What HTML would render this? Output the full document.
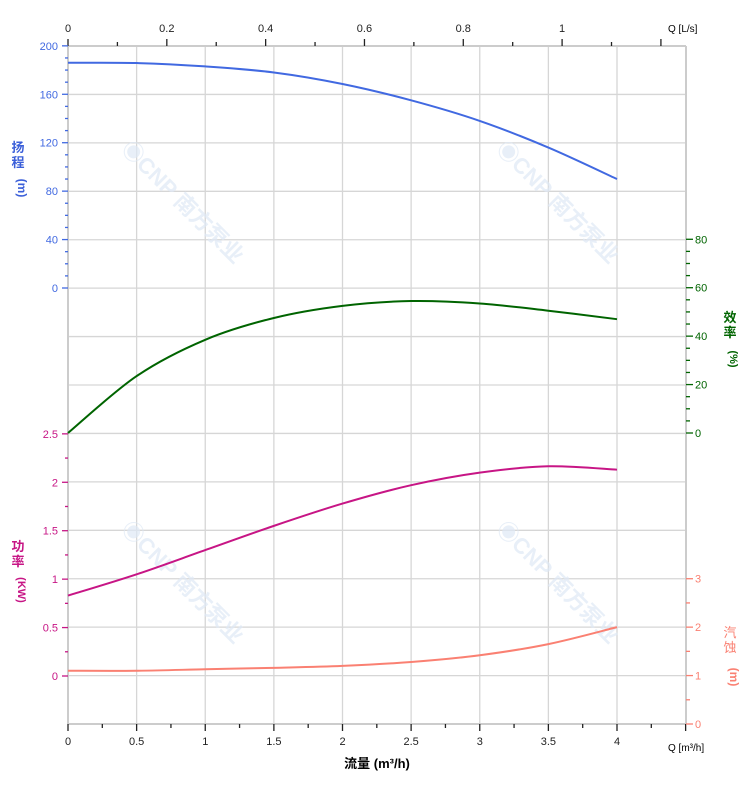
<!DOCTYPE html>
<html><head><meta charset="utf-8"><style>
html,body{margin:0;padding:0;background:#fff}
svg{display:block;font-family:"Liberation Sans","Noto Sans CJK SC",sans-serif}
</style></head><body>
<svg id="s" width="752" height="797" viewBox="0 0 752 797" xmlns="http://www.w3.org/2000/svg">
<g id="grid" stroke="#d6d6d6" stroke-width="1.3"></g>
<g id="wm" fill="#dfe9f5" font-size="22" font-weight="bold" opacity="0.7">
<text x="120" y="150" transform="rotate(45 120 150)">◉CNP 南方泵业</text>
<text x="495" y="150" transform="rotate(45 495 150)">◉CNP 南方泵业</text>
<text x="120" y="530" transform="rotate(45 120 530)">◉CNP 南方泵业</text>
<text x="495" y="530" transform="rotate(45 495 530)">◉CNP 南方泵业</text>
</g>
<line x1="68" y1="46" x2="68" y2="724" stroke="#ccc" stroke-width="2"/>
<line x1="686" y1="46" x2="686" y2="724" stroke="#ccc" stroke-width="2"/>
<line x1="68" y1="724" x2="686" y2="724" stroke="#ccc" stroke-width="2"/>
<line x1="68" y1="46" x2="686" y2="46" stroke="#ccc" stroke-width="2"/>
<g id="ticks"></g>
<g id="lab" font-size="11"></g>
<g id="curves" fill="none" stroke-width="2"></g>
<g font-size="13" font-weight="bold">
<text x="18" y="152" fill="#3b5fd9" text-anchor="middle">扬</text>
<text x="18" y="167" fill="#3b5fd9" text-anchor="middle">程</text>
<text x="18" y="188" fill="#3b5fd9" text-anchor="middle" transform="rotate(90 18 188)" font-size="12">(m)</text>
<text x="18" y="551" fill="#c71585" text-anchor="middle">功</text>
<text x="18" y="566" fill="#c71585" text-anchor="middle">率</text>
<text x="18" y="590" fill="#c71585" text-anchor="middle" transform="rotate(90 18 590)" font-size="11">(KW)</text>
<text x="730" y="322" fill="#006400" text-anchor="middle">效</text>
<text x="730" y="337" fill="#006400" text-anchor="middle">率</text>
<text x="730" y="359" fill="#006400" text-anchor="middle" transform="rotate(90 730 359)" font-size="11">(%)</text>
<text x="730" y="637" fill="#fa8072" text-anchor="middle" font-weight="normal">汽</text>
<text x="730" y="652" fill="#fa8072" text-anchor="middle" font-weight="normal">蚀</text>
<text x="730" y="677" fill="#fa8072" text-anchor="middle" transform="rotate(90 730 677)" font-size="12">(m)</text>
<text x="377" y="768" fill="#000" text-anchor="middle">流量 (m³/h)</text>
</g>
<text x="668" y="751" font-size="10" fill="#000">Q [m³/h]</text>
<text x="668" y="32" font-size="10" fill="#000">Q [L/s]</text>
</svg>
<script>
var NS="http://www.w3.org/2000/svg";
function el(p,t,a,txt){var e=document.createElementNS(NS,t);for(var k in a)e.setAttribute(k,a[k]);if(txt!=null)e.textContent=txt;document.getElementById(p).appendChild(e);}
var X0=68,PX=137.25,G=48.43;
function X(q){return X0+q*PX}
// grid
for(var i=1;i<=9;i++){var x=X(i*0.5);if(x<685)el("grid","line",{x1:x,y1:46,x2:x,y2:724});}
for(var j=1;j<14;j++){var y=46+j*G;el("grid","line",{x1:68,y1:y,x2:686,y2:y});}
// bottom ticks
for(var k=0;k<=18;k++){var x=X(k*0.25);if(x>687)break;el("ticks","line",{x1:x,y1:724,x2:x,y2:k%2==0?731:728,stroke:"#222","stroke-width":1.3});}
["0","0.5","1","1.5","2","2.5","3","3.5","4"].forEach(function(t,i){el("lab","text",{x:X(i*0.5),y:745,"text-anchor":"middle",fill:"#222"},t)});
// top ticks
for(var k=0;k<=12;k++){var x=X0+k*0.1*3.6*PX;if(x>687)break;el("ticks","line",{x1:x,y1:46,x2:x,y2:k%2==0?39:42,stroke:"#222","stroke-width":1.3});}
["0","0.2","0.4","0.6","0.8","1"].forEach(function(t,i){el("lab","text",{x:X0+i*0.2*3.6*PX,y:32,"text-anchor":"middle",fill:"#222"},t)});
// left head axis
for(var k=0;k<=20;k++){var y=288-k*G/4;el("ticks","line",{x1:68,y1:y,x2:k%4==0?62:65,y2:y,stroke:"#4169e1","stroke-width":1.3});}
for(var v=0;v<=200;v+=40)el("lab","text",{x:58,y:288-v/40*G+4,"text-anchor":"end",fill:"#4169e1"},v);
// left power axis
for(var k=0;k<=10;k++){var y=676-k*G/2;el("ticks","line",{x1:68,y1:y,x2:k%2==0?62:65,y2:y,stroke:"#c71585","stroke-width":1.3});}
["0","0.5","1","1.5","2","2.5"].forEach(function(t,i){el("lab","text",{x:58,y:676-i*G+4,"text-anchor":"end",fill:"#c71585"},t)});
// right eff axis
for(var k=0;k<=16;k++){var y=433-k*G/4;el("ticks","line",{x1:686,y1:y,x2:k%4==0?693:690,y2:y,stroke:"#006400","stroke-width":1.3});}
for(var v=0;v<=80;v+=20)el("lab","text",{x:695,y:433-v/20*G+4,fill:"#006400"},v);
// right npsh
for(var k=0;k<=6;k++){var y=724-k*G/2;el("ticks","line",{x1:686,y1:y,x2:k%2==0?693:690,y2:y,stroke:"#fa8072","stroke-width":1.3});}
for(var v=0;v<=3;v++)el("lab","text",{x:695,y:724-v*G+4,fill:"#fa8072"},v);
function curve(pts,col){var p=pts.map(function(a){return [X(a[0]),a[1]]});var d="M"+p[0][0]+","+p[0][1];
for(var i=0;i<p.length-1;i++){var p0=p[i-1]||p[i],p1=p[i],p2=p[i+1],p3=p[i+2]||p2;
d+=" C"+(p1[0]+(p2[0]-p0[0])/6)+","+(p1[1]+(p2[1]-p0[1])/6)+" "+(p2[0]-(p3[0]-p1[0])/6)+","+(p2[1]-(p3[1]-p1[1])/6)+" "+p2[0]+","+p2[1];}
el("curves","path",{d:d,stroke:col});}
function H(v){return 288-v/40*G}function E(v){return 433-v/20*G}function P(v){return 676-v/0.5*G}function N(v){return 724-v*G}
curve([[0,186],[0.5,185.8],[1,183],[1.5,178],[2,168.5],[2.5,155],[3,138],[3.5,116],[4,90]].map(function(a){return[a[0],H(a[1])]}),"#4169e1");
curve([[0,0],[0.5,23.5],[1,38.5],[1.5,47.5],[2,52.5],[2.5,54.5],[3,53.5],[3.5,50.5],[4,47]].map(function(a){return[a[0],E(a[1])]}),"#006400");
curve([[0,0.83],[0.5,1.05],[1,1.3],[1.5,1.55],[2,1.78],[2.5,1.97],[3,2.1],[3.5,2.165],[4,2.13]].map(function(a){return[a[0],P(a[1])]}),"#c71585");
curve([[0,1.1],[0.5,1.1],[1,1.13],[1.5,1.16],[2,1.2],[2.5,1.28],[3,1.42],[3.5,1.65],[4,2.0]].map(function(a){return[a[0],N(a[1])]}),"#fa8072");
</script>
</body></html>
